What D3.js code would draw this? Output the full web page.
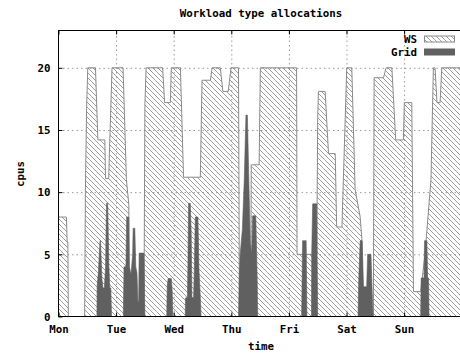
<!DOCTYPE html>
<html>
<head>
<meta charset="utf-8">
<script src="https://cdn.jsdelivr.net/npm/d3@7"></script>
<style>
  body { margin: 0; background: #fff; }
  svg { display: block; overflow: hidden; }
  text { font-family: "DejaVu Sans Mono", "Liberation Mono", monospace; font-weight: bold; font-size: 10.8px; fill: #000; }
</style>
</head>
<body>
<svg id="chart" width="460" height="356"></svg>
<script>
// day labels sit at the start of each day (hours since Monday 00:00)
const dayLabels = ["Mon", "Tue", "Wed", "Thu", "Fri", "Sat", "Sun"];
const dayHours = [0, 24, 48, 72, 96, 120, 144];
const yTicks = [0, 5, 10, 15, 20];

// WS allocation: hours since Monday, cpus
const wsHours = [0, 3.3, 3.6, 3.9, 4.1,
  10.9, 11.2, 11.7, 12.2, 15.4, 16.4, 19.3, 19.6, 20.9, 22.3, 26.9, 28.3, 29.3, 29.5,
  35.6, 36.0, 36.5, 43.4, 44.2, 46.6, 47.0, 50.8, 52.1, 59.1, 59.8, 63.3, 64.0, 67.4, 68.5, 70.7, 71.9, 75.0, 75.4,
  80.1, 80.3, 83.6, 84.1, 99.2, 99.4, 107.6, 108.0, 108.3, 111.1, 112.5, 115.3, 115.9, 118.1, 120.1, 122.2, 123.6, 125.7, 126.5, 126.7,
  131.2, 131.5, 135.4, 136.5, 138.9, 140.5, 143.7, 144.1, 147.2, 147.9, 150.9, 152.7, 155.2, 156.2, 156.9, 157.7, 159.0, 159.7, 168];
const wsCpus = [8, 8, 6, 6, 0,
  0, 10, 16.7, 20, 20, 14.2, 14.2, 11.1, 11.1, 20, 20, 11, 9, 0,
  0, 17, 20, 20, 17.2, 17.2, 20, 20, 11.2, 11.2, 19, 19, 20, 20, 18.1, 18.1, 20, 20, 0,
  0, 12.2, 12.2, 20, 20, 5, 5, 16, 18.1, 18.1, 13.1, 13.1, 7.2, 7.2, 20, 20, 10.2, 8, 6, 0,
  0, 19.2, 19.2, 20, 20, 14.2, 14.2, 17.2, 17.2, 2, 2, 5, 11, 20, 20, 17.2, 17.2, 20, 20];

// Grid allocation: hours since Monday, cpus
const gridHours = [0, 16.0, 16.1, 16.6, 17.3, 17.5, 18.1, 18.5, 19.1, 19.6, 20.0, 20.5, 21.0, 21.4, 21.8, 22.1,
  27.0, 27.3, 28.1, 28.4, 29.3, 29.5, 30.2, 30.9, 31.1, 31.8, 32.2, 32.7, 33.1, 33.4, 33.6, 35.6, 36.0,
  45.1, 45.3, 45.7, 47.0, 47.4, 47.6,
  52.8, 52.9, 53.7, 53.9, 54.2, 54.9, 55.3, 55.6, 56.3, 56.6, 57.0, 58.1, 58.5, 59.1, 59.4,
  75.0, 75.3, 75.7, 76.6, 77.4, 78.1, 78.7, 79.3, 79.9, 80.5, 80.9, 82.2, 82.8, 83.0,
  101.3, 101.5, 101.7, 103.2, 103.5,
  105.4, 105.5, 105.9, 107.6, 108.0,
  124.8, 125.1, 125.7, 126.5, 127.1, 128.4, 128.8, 130.2, 130.7, 131.1,
  150.9, 151.1, 152.3, 152.5, 153.5, 153.8, 154.2, 154.4, 168];
const gridCpus = [0, 0, 2.5, 3.5, 6.1, 6.1, 3, 2.3, 2.3, 4, 9.1, 9.1, 4, 2.3, 2.3, 0,
  0, 4, 4, 8, 8, 4, 3.4, 5, 7.1, 7.1, 4, 3.5, 1.2, 1.2, 5.1, 5.1, 0,
  0, 2.5, 3.05, 3.05, 2, 0,
  0, 1.5, 1.5, 3.9, 9.1, 9.1, 6.7, 1.5, 1.5, 3.9, 8, 8, 3.9, 1.5, 0,
  0, 3, 5, 7, 11, 16.2, 16.2, 11, 6, 5, 8.1, 8.1, 3, 0,
  0, 3, 6.1, 6.1, 0,
  0, 5, 9.06, 9.06, 0,
  0, 3, 6.1, 6.1, 2.4, 2.4, 5, 5, 2, 0,
  0, 3.1, 3.1, 6.1, 6.1, 3.1, 3.1, 0, 0];

const seriesNames = ["WS", "Grid"];

const svg = d3.select("#chart");
const plotLeft = 58.5, plotRight = 461.7, plotTop = 30.5, plotBottom = 316.5;

const x = d3.scaleLinear().domain([0, 168]).range([plotLeft, plotRight]);
const y = d3.scaleLinear().domain([0, 23]).range([plotBottom, plotTop]);

// hatch for WS
const defs = svg.append("defs");
const pat = defs.append("pattern")
  .attr("id", "hatch")
  .attr("patternUnits", "userSpaceOnUse")
  .attr("width", 5).attr("height", 5);
pat.append("path")
  .attr("d", "M-1,-1 L6,6 M-1,4 L1,6 M4,-1 L6,1")
  .attr("stroke", "#7c7c7c").attr("stroke-width", 0.75);

// grid lines (dotted)
const gridStyle = g => g.call(s => s.select(".domain").remove())
  .selectAll("line").attr("stroke", "#9a9a9a").attr("stroke-dasharray", "1.5,3");

svg.append("g")
  .attr("transform", `translate(${plotLeft},0)`)
  .call(d3.axisLeft(y).tickValues(yTicks.slice(1)).tickSize(-(plotRight - plotLeft)).tickFormat(""))
  .call(gridStyle);

svg.append("g")
  .attr("transform", `translate(0,${plotBottom})`)
  .call(d3.axisBottom(x).tickValues(dayHours.slice(1)).tickSize(-(plotBottom - plotTop)).tickFormat(""))
  .call(gridStyle);

const ws = wsHours.map((h, i) => ({ h, v: wsCpus[i] }));
const grid = gridHours.map((h, i) => ({ h, v: gridCpus[i] }));

const area = d3.area().x(d => x(d.h)).y0(y(0)).y1(d => y(d.v));

svg.append("path")
  .datum(ws)
  .attr("d", area)
  .attr("fill", "url(#hatch)")
  .attr("stroke", "#8a8a8a")
  .attr("stroke-width", 1);

svg.append("path")
  .datum(grid)
  .attr("d", area)
  .attr("fill", "#606060")
  .attr("stroke", "#606060")
  .attr("stroke-width", 0.6);

// axes with inward ticks
const yAxis = svg.append("g")
  .attr("transform", `translate(${plotLeft},0)`)
  .call(d3.axisLeft(y).tickValues(yTicks).tickSizeInner(-4).tickSizeOuter(0).tickPadding(8).tickFormat(d3.format("d")));
yAxis.select(".domain").remove();
yAxis.selectAll("line").attr("stroke", "#000");
yAxis.selectAll("text").attr("dy", "0.35em");

const xAxis = svg.append("g")
  .attr("transform", `translate(0,${plotBottom})`)
  .call(d3.axisBottom(x).tickValues(dayHours).tickSizeInner(-4).tickSizeOuter(0).tickPadding(9)
    .tickFormat((d, i) => dayLabels[i]));
xAxis.select(".domain").remove();
xAxis.selectAll("line").attr("stroke", "#000");

// mirrored ticks on top
const topAxis = svg.append("g")
  .attr("transform", `translate(0,${plotTop})`)
  .call(d3.axisTop(x).tickValues(dayHours).tickSizeInner(-4).tickSizeOuter(0).tickFormat(""));
topAxis.select(".domain").remove();
topAxis.selectAll("line").attr("stroke", "#000");

// frame
svg.append("rect")
  .attr("x", plotLeft).attr("y", plotTop)
  .attr("width", plotRight - plotLeft).attr("height", plotBottom - plotTop)
  .attr("fill", "none").attr("stroke", "#000").attr("stroke-width", 1);

// titles
svg.append("text")
  .attr("x", 261).attr("y", 17)
  .attr("text-anchor", "middle")
  .text("Workload type allocations");

svg.append("text")
  .attr("x", 261).attr("y", 350)
  .attr("text-anchor", "middle")
  .text("time");

svg.append("text")
  .attr("transform", "translate(24,174) rotate(-90)")
  .attr("text-anchor", "middle")
  .text("cpus");

// legend
const legend = svg.append("g");
seriesNames.forEach((name, i) => {
  const ly = 39 + i * 13;
  legend.append("text")
    .attr("x", 417).attr("y", ly + 3.8)
    .attr("text-anchor", "end")
    .text(name);
  legend.append("rect")
    .attr("x", 424.5).attr("y", ly - 3)
    .attr("width", 30).attr("height", 6)
    .attr("fill", i === 0 ? "url(#hatch)" : "#606060")
    .attr("stroke", i === 0 ? "#8a8a8a" : "#606060");
});
</script>
</body>
</html>
